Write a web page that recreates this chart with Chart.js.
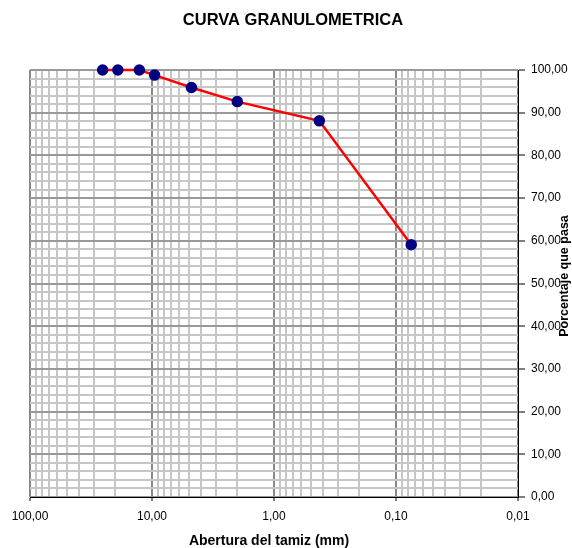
<!DOCTYPE html>
<html>
<head>
<meta charset="utf-8">
<script src="https://cdn.jsdelivr.net/npm/chart.js@4.4.0/dist/chart.umd.min.js"></script>
<style>
  body { margin: 0; background: #fff; }
  #granChart { display: block; }
</style>
</head>
<body>
<canvas id="granChart" width="572" height="548"></canvas>
<script>
// Sieve openings (mm) and percent passing
const sieveSizes = [25.4, 19.05, 12.7, 9.525, 4.75, 2.0, 0.425, 0.075];
const percentPassing = [100, 100, 100, 98.8, 95.9, 92.6, 88.1, 59.1];

// Axis ticks
const xMajorTicks = [100, 10, 1, 0.1, 0.01];
const xTickLabels = ['100,00', '10,00', '1,00', '0,10', '0,01'];
const yMajorStep = 10;
const yMinorStep = 2;

const chartTitle = 'CURVA GRANULOMETRICA';
const xTitle = 'Abertura del tamiz (mm)';
const yTitle = 'Porcentaje que pasa';

Chart.defaults.font.family = 'Arial, "Liberation Sans", sans-serif';
Chart.defaults.color = '#000';

// every 1..9 x decade between 0.01 and 100
function logGridValues() {
    const vals = [];
    for (let e = -2; e < 2; e++) {
        for (let k = 1; k <= 9; k++) {
            vals.push(parseFloat((k * Math.pow(10, e)).toPrecision(6)));
        }
    }
    vals.push(100);
    return vals;
}

function isXMajor(v) {
    return xMajorTicks.some(m => Math.abs(m - v) / m < 1e-6);
}

const points = sieveSizes.map((s, i) => ({ x: s, y: percentPassing[i] }));

// draws the chart title and both axis titles
const titlesPlugin = {
    id: 'titles',
    afterDraw(chart) {
        const ctx = chart.ctx;
        ctx.save();
        ctx.fillStyle = '#000';
        ctx.textAlign = 'center';
        ctx.textBaseline = 'middle';

        ctx.font = 'bold 16.5px Arial, "Liberation Sans", sans-serif';
        ctx.fillText(chartTitle, 293, 20);

        ctx.font = 'bold 14px Arial, "Liberation Sans", sans-serif';
        ctx.fillText(xTitle, 269, 541);

        ctx.translate(565, 276);
        ctx.rotate(-Math.PI / 2);
        ctx.font = 'bold 12.5px Arial, "Liberation Sans", sans-serif';
        ctx.fillText(yTitle, 0, 0);
        ctx.restore();
    }
};

const ctx = document.getElementById('granChart').getContext('2d');

window.myChart = new Chart(ctx, {
    type: 'scatter',
    data: {
        datasets: [{
            label: 'Curva',
            data: points,
            showLine: true,
            borderColor: '#ff0000',
            borderWidth: 2.5,
            pointBackgroundColor: '#000080',
            pointBorderColor: '#000080',
            pointRadius: 4.5,
            pointHoverRadius: 4.5,
            tension: 0,
            clip: false
        }]
    },
    options: {
        responsive: false,
        animation: false,
        layout: {
            padding: { top: 70, left: 30, right: 0, bottom: 0 }
        },
        plugins: {
            legend: { display: false },
            title: { display: false },
            tooltip: { enabled: false }
        },
        scales: {
            x: {
                type: 'logarithmic',
                position: 'bottom',
                reverse: true,
                min: 0.01,
                max: 100,
                afterBuildTicks: function (scale) {
                    scale.ticks = logGridValues().map(v => ({ value: v }));
                },
                afterFit: function (scale) {
                    scale.height = 51;
                },
                ticks: {
                    autoSkip: false,
                    maxRotation: 0,
                    minRotation: 0,
                    padding: 8,
                    font: { size: 12 },
                    callback: function (value) {
                        const idx = xMajorTicks.findIndex(m => Math.abs(m - value) / m < 1e-6);
                        return idx >= 0 ? xTickLabels[idx] : '';
                    }
                },
                grid: {
                    color: c => isXMajor(c.tick.value) ? '#888888' : '#c6c6c6',
                    tickColor: c => isXMajor(c.tick.value) ? '#000' : 'rgba(0,0,0,0)',
                    tickWidth: 1,
                    tickLength: 4,
                    lineWidth: 2
                },
                border: { color: '#000', width: 1 }
            },
            y: {
                type: 'linear',
                position: 'right',
                min: 0,
                max: 100,
                afterBuildTicks: function (scale) {
                    const t = [];
                    for (let v = 0; v <= 100; v += yMinorStep) t.push({ value: v });
                    scale.ticks = t;
                },
                afterFit: function (scale) {
                    scale.width = 54;
                },
                ticks: {
                    autoSkip: false,
                    padding: 6,
                    font: { size: 12 },
                    callback: function (value) {
                        return value % yMajorStep === 0 ? value.toFixed(2).replace('.', ',') : '';
                    }
                },
                grid: {
                    color: c => c.tick.value % yMajorStep === 0 ? '#999999' : '#c6c6c6',
                    tickColor: c => c.tick.value % yMajorStep === 0 ? '#000' : 'rgba(0,0,0,0)',
                    tickWidth: 1,
                    tickLength: 7,
                    lineWidth: 2
                },
                border: { color: '#000', width: 1 }
            }
        }
    },
    plugins: [titlesPlugin]
});
</script>
</body>
</html>
